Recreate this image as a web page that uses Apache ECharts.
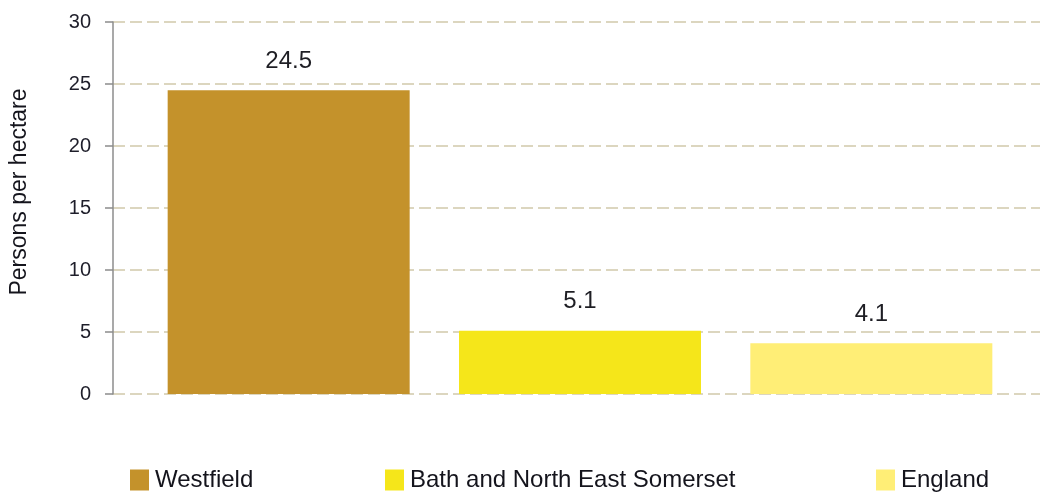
<!DOCTYPE html>
<html>
<head>
<meta charset="utf-8">
<script src="https://cdn.jsdelivr.net/npm/echarts@6/dist/echarts.min.js"></script>
<style>
    html, body { margin: 0; padding: 0; background: #fff; }
    #chart { width: 1040px; height: 495px; }
</style>
</head>
<body>
<div id="chart"></div>
<script>
const areas = ["Westfield", "Bath and North East Somerset", "England"];
const density = [24.5, 5.1, 4.1];
const barColors = ["#c4922b", "#f5e61a", "#ffee76"];
const yTicks = [0, 5, 10, 15, 20, 25, 30];
const legendLeft = [130, 385, 876];

const font = "Liberation Sans, Arial, sans-serif";
const myChart = echarts.init(document.getElementById("chart"));

const series = areas.map((name, i) => ({
    name: name,
    type: "bar",
    xAxisIndex: 1,
    yAxisIndex: 1,
    stack: "all",
    barWidth: 242,
    data: areas.map((_, j) => (j === i ? density[i] : null)),
    itemStyle: { color: barColors[i] },
    label: {
        show: true,
        position: "top",
        distance: 17,
        color: "#1e1e24",
        fontSize: 24,
        fontFamily: font
    }
}));

// one legend per item so each sits where the original puts it
const legends = areas.map((name, i) => ({
    data: [name],
    bottom: 3,
    left: legendLeft[i],
    padding: 0,
    itemWidth: 19,
    itemHeight: 21,
    itemGap: 0,
    icon: "rect",
    textStyle: { fontSize: 24, color: "#14141c", fontFamily: font, padding: [0, 0, 0, 1] }
}));

myChart.setOption({
    animation: false,
    grid: [
        { left: 112, right: 0, top: 22, bottom: 101 },  // axis + gridlines
        { left: 143, right: 23, top: 22, bottom: 101 }  // bars
    ],
    legend: legends,
    xAxis: [
        { type: "category", gridIndex: 0, data: areas, show: false },
        { type: "category", gridIndex: 1, data: areas, show: false }
    ],
    yAxis: [
        {
            type: "value",
            gridIndex: 0,
            min: yTicks[0],
            max: yTicks[yTicks.length - 1],
            interval: 5,
            name: "Persons per hectare",
            nameLocation: "middle",
            nameGap: 82,
            nameTextStyle: { fontSize: 23, color: "#14141c", fontFamily: font, padding: [0, 0, 0, 32] },
            axisLine: { show: true, lineStyle: { color: "#8c8c8c", width: 1.5 } },
            axisTick: { show: true, length: 8, lineStyle: { color: "#8c8c8c", width: 1.5 } },
            axisLabel: { fontSize: 20, color: "#1e1e2a", margin: 22, fontFamily: font },
            splitLine: {
                show: true,
                lineStyle: { color: "#dcd6bf", width: 2, type: [12, 5] }
            }
        },
        {
            type: "value",
            gridIndex: 1,
            min: yTicks[0],
            max: yTicks[yTicks.length - 1],
            interval: 5,
            show: false,
            splitLine: { show: false }
        }
    ],
    series: series
});
</script>
</body>
</html>
